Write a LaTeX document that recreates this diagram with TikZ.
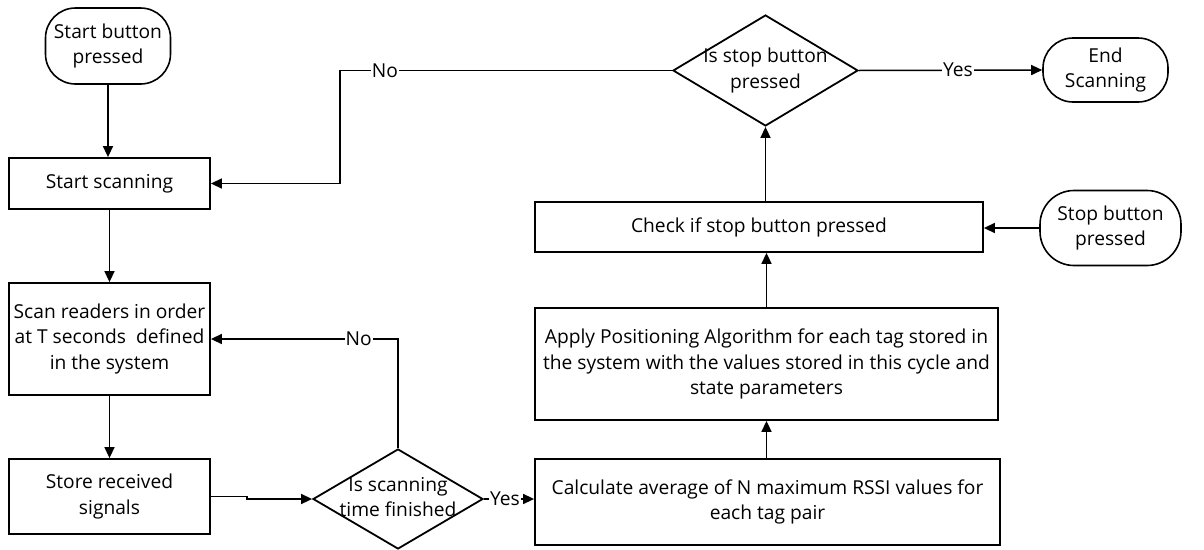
\documentclass[tikz,border=0pt]{standalone}
\usepackage{fontspec}
\setmainfont{Open Sans}
\usetikzlibrary{shapes.geometric,arrows.meta,calc}
\begin{document}
\begin{tikzpicture}[x=1pt,y=-1pt,
  font=\fontsize{19.2}{25.5}\selectfont,
  box/.style={draw,line width=1.8pt,align=center,inner sep=0pt},
  term/.style={draw,line width=1.6pt,align=center,rounded corners=30pt,inner sep=0pt},
  dec/.style={draw,diamond,line width=1.8pt,inner sep=0pt},
  conn/.style={line width=1.5pt,-{Triangle[length=11pt,width=10pt]}},
  lab/.style={fill=white,inner sep=1pt}]
\useasboundingbox (0,0) rectangle (1204,549);
\node[term,minimum width=125pt,minimum height=76pt] (sb) at (108,46) {Start button\\pressed};
\node[box,minimum width=201pt,minimum height=51pt] (ss) at (109.5,183.5) {Start scanning};
\node[box,minimum width=201pt,minimum height=112pt] (sr) at (109.5,339) {Scan readers in order\\at T seconds~~defined\\in the system};
\node[box,minimum width=201pt,minimum height=75pt] (st) at (109.5,496.5) {Store received\\signals};
\node[dec,minimum width=170pt,minimum height=100pt,label={center:\begin{tabular}{@{}c@{}}Is scanning\\time finished\end{tabular}}] (d1) at (398,499) {};
\node[box,minimum width=465pt,minimum height=86pt] (ca) at (767.5,502) {Calculate average of N maximum RSSI values for\\each tag pair};
\node[box,minimum width=463pt,minimum height=112pt] (ap) at (766.5,364) {Apply Positioning Algorithm for each tag stored in\\the system with the values stored in this cycle and\\state parameters};
\node[box,minimum width=448pt,minimum height=50pt] (ck) at (759,227) {Check if stop button pressed};
\node[dec,minimum width=185pt,minimum height=111pt,label={center:\begin{tabular}{@{}c@{}}Is stop button\\pressed\end{tabular}}] (d2) at (765.5,70.5) {};
\node[term,minimum width=125pt,minimum height=64pt] (es) at (1105.5,70) {End\\Scanning};
\node[term,minimum width=141pt,minimum height=75pt,rounded corners=34pt] (sp) at (1110.5,228) {Stop button\\pressed};
\coordinate (bendA) at (340,183.5);
\coordinate (jogA) at (247,499);
\draw[conn] (sb.south) -- (sb.south |- ss.north);
\draw[conn] (ss.south) -- (sr.north);
\draw[conn] (sr.south) -- (st.north);
\draw[conn] (st.east) -| (jogA) -- (d1.west);
\draw[conn] (d1.north) -- (d1.north |- sr.east) -- node[lab,pos=0.21]{No} (sr.east);
\draw[conn] (d1.east) -- node[lab,pos=0.42]{Yes} (d1.east -| ca.west);
\draw[conn] (ca.north -| ap.south) -- (ap.south);
\draw[conn] (ap.north) -- (ap.north |- ck.south);
\draw[conn] (ck.north -| d2.south) -- (d2.south);
\draw[conn] (sp.west) -- (sp.west -| ck.east);
\draw[conn] (d2.west) -- node[lab,pos=0.865]{No} (d2.west -| bendA) -- (bendA) -- (ss.east);
\draw[conn] (d2.east) -- node[lab,pos=0.54]{Yes} (es.west);
\end{tikzpicture}
\end{document}
